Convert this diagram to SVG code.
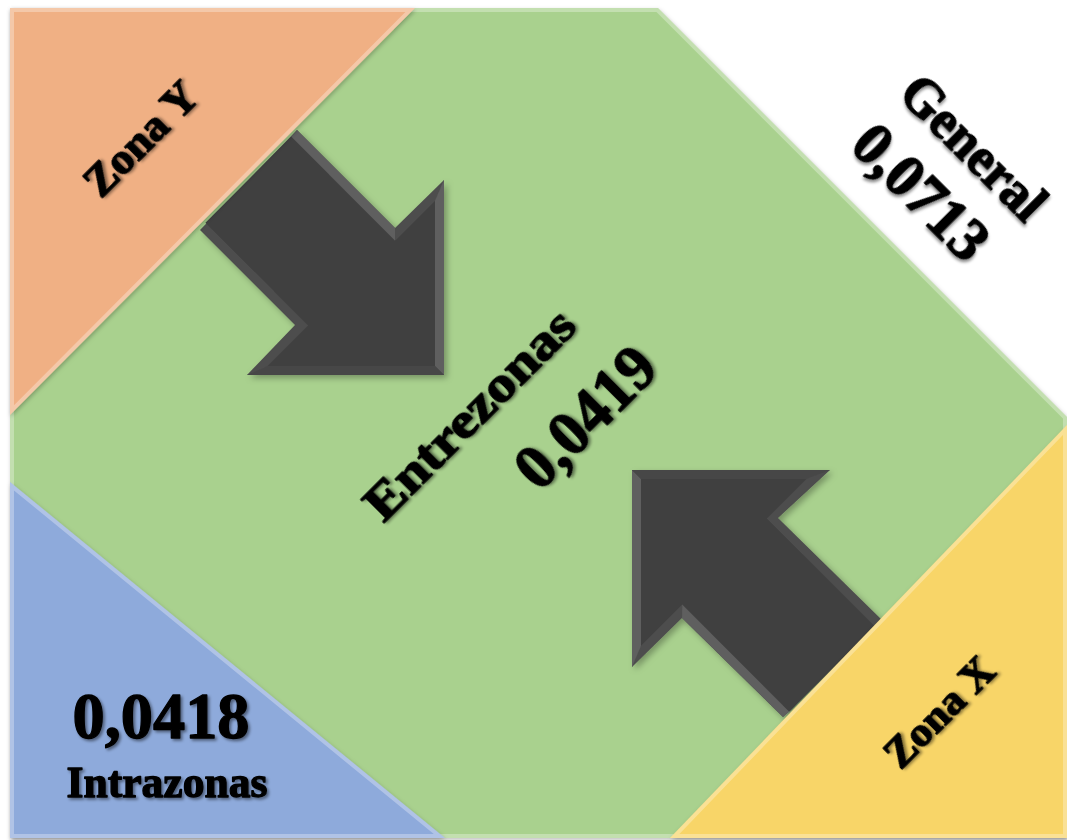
<svg xmlns="http://www.w3.org/2000/svg" width="1067" height="840" viewBox="0 0 1067 840">
  <defs>
    <style>
      .lbl { font-family: "Liberation Serif", "Times New Roman", serif; font-weight: bold; fill: #000; stroke: #000; stroke-width: 1.3; stroke-linejoin: round; filter: url(#tshadow); }
      .edge { fill: none; stroke: #ffffff; stroke-opacity: 0.3; stroke-width: 8; }
      .arrOuter { fill: #4e4e4e; }
      .arrInner { fill: #414141; }
      .facetLight { fill: #5e5e5e; }
      .facetDark { fill: #474747; }
    </style>
    <filter id="tshadow" x="-20%" y="-20%" width="140%" height="140%">
      <feDropShadow dx="2" dy="2" stdDeviation="1.5" flood-color="#000" flood-opacity="0.45"/>
    </filter>
    <filter id="ashadow" x="-20%" y="-20%" width="140%" height="140%">
      <feDropShadow dx="3" dy="3" stdDeviation="3" flood-color="#000" flood-opacity="0.3"/>
    </filter>
    <filter id="sshadow" x="-5%" y="-5%" width="110%" height="110%">
      <feDropShadow dx="1" dy="2" stdDeviation="2" flood-color="#000" flood-opacity="0.25"/>
    </filter>
    <clipPath id="cGreen"><polygon points="10,8 658,8 1067,417 1067,838 10,838"/></clipPath>
    <clipPath id="cOrange"><polygon points="10,8 415,8 10,415"/></clipPath>
    <clipPath id="cBlue"><polygon points="10,482 445,838 10,838"/></clipPath>
    <clipPath id="cYellow"><polygon points="1067,425 1067,838 670,838"/></clipPath>
  </defs>

  <rect x="0" y="0" width="1067" height="840" fill="#ffffff"/>

  <g id="general">
    <polygon points="10,8 658,8 1067,417 1067,838 10,838" fill="#a9d18e" filter="url(#sshadow)"/>
    <polygon points="10,8 658,8 1067,417 1067,838 10,838" class="edge" clip-path="url(#cGreen)"/>
  </g>

  <g id="connectors">
    <g id="arrow-y" filter="url(#ashadow)">
      <polygon class="arrOuter" points="297,130 395,228 444,180 444,375 247,375 295,325 200,230"/>
      <polygon class="facetLight" points="297,130 395,228 395,240.7 291.2,136.8"/>
      <polygon class="facetLight" points="444,180 444,375 435,366 435,200.7"/>
      <polygon class="facetDark" points="444,375 247,375 267.7,366 435,366"/>
      <polygon class="arrInner" points="291.2,136.8 395,240.7 435,200.7 435,366 267.7,366 308.2,325.5 205.4,222.7"/>
    </g>
    <g id="arrow-x" filter="url(#ashadow)">
      <polygon class="arrOuter" points="632,470 830,470 778,518 882,620 783,717 682,618 632,667"/>
      <polygon class="facetLight" points="632,470 641,479 641,645.8 632,667"/>
      <polygon class="facetLight" points="783,717 682,618 682.3,604.6 789.4,711.7"/>
      <polygon class="facetDark" points="632,470 830,470 806.3,479 641,479"/>
      <polygon class="arrInner" points="641,479 806.3,479 766.8,518.5 874.7,626.3 789.4,711.7 682.3,604.6 641,645.8"/>
    </g>
  </g>

  <g id="zona-y">
    <polygon points="10,8 415,8 10,415" fill="#f0b084" filter="url(#sshadow)"/>
    <polygon points="10,8 415,8 10,415" class="edge" clip-path="url(#cOrange)"/>
    <text class="lbl" font-size="44" text-anchor="middle" textLength="142" lengthAdjust="spacingAndGlyphs" transform="translate(151,149) rotate(-45)">Zona Y</text>
  </g>

  <g id="intrazonas">
    <polygon points="10,482 445,838 10,838" fill="#8eaadb" filter="url(#sshadow)"/>
    <polygon points="10,482 445,838 10,838" class="edge" clip-path="url(#cBlue)"/>
    <text class="lbl" font-size="66" text-anchor="middle" textLength="177" lengthAdjust="spacingAndGlyphs" x="161" y="738">0,0418</text>
    <text class="lbl" font-size="44" text-anchor="middle" textLength="201" lengthAdjust="spacingAndGlyphs" x="167" y="797">Intrazonas</text>
  </g>

  <g id="zona-x">
    <polygon points="1067,425 1067,838 670,838" fill="#f8d568" filter="url(#sshadow)"/>
    <polygon points="1067,425 1067,838 670,838" class="edge" clip-path="url(#cYellow)"/>
    <text class="lbl" font-size="43" text-anchor="middle" textLength="137" lengthAdjust="spacingAndGlyphs" transform="translate(949,722) rotate(-45)">Zona X</text>
  </g>

  <g id="general-labels">
    <text class="lbl" font-size="54" text-anchor="middle" textLength="182" lengthAdjust="spacingAndGlyphs" transform="translate(961,160) rotate(45)">General</text>
    <text class="lbl" font-size="62" text-anchor="middle" textLength="166" lengthAdjust="spacingAndGlyphs" transform="translate(907,206) rotate(45)">0,0713</text>
  </g>

  <g id="entrezonas">
    <text class="lbl" font-size="50" text-anchor="middle" textLength="276" lengthAdjust="spacingAndGlyphs" transform="translate(481,426) rotate(-45)">Entrezonas</text>
    <text class="lbl" font-size="63" text-anchor="middle" textLength="172" lengthAdjust="spacingAndGlyphs" transform="translate(600,432) rotate(-45)">0,0419</text>
  </g>
</svg>
